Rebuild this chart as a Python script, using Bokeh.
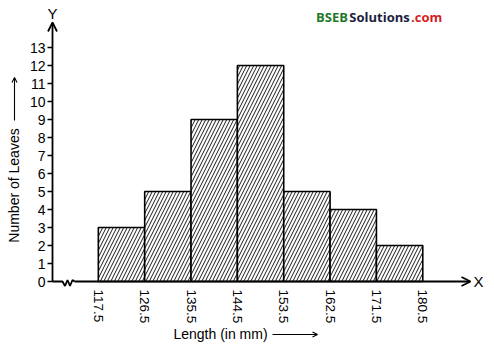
import math
from bokeh.plotting import figure
from bokeh.models import FixedTicker, Label, Arrow, OpenHead
from bokeh.embed import file_html
from bokeh.resources import INLINE

# ---- data ----
edges = [117.5, 126.5, 135.5, 144.5, 153.5, 162.5, 171.5, 180.5]
counts = [3, 5, 9, 12, 5, 4, 2]
y_ticks = list(range(0, 14))
x_tick_labels = ["117.5", "126.5", "135.5", "144.5", "153.5", "162.5", "171.5", "180.5"]

# ---- geometry (pixel scale of reference) ----
W, H = 494, 344
PX_X = 5.15      # px per mm
PX_Y = 18.0      # px per leaf
AX_PX = 52       # px of y-axis from left
ZERO_PX = 281    # px of zero line from top
AXIS_X = 108.6   # y-axis position in mm units

x0 = AXIS_X - AX_PX / PX_X
x1 = x0 + W / PX_X
y0 = -(H - ZERO_PX) / PX_Y
y1 = ZERO_PX / PX_Y

def dx(px):
    return AXIS_X + (px - AX_PX) / PX_X

def dy(py):
    return (ZERO_PX - py) / PX_Y

FONT = "Liberation Sans"

p = figure(width=W, height=H, x_range=(x0, x1), y_range=(y0, y1),
           min_border=0, output_backend="svg", toolbar_location=None)
p.outline_line_color = None
p.grid.visible = False
p.background_fill_color = "white"

# bars
p.quad(left=edges[:-1], right=edges[1:], bottom=[0] * len(counts), top=counts,
       fill_color="white", line_color="black", line_width=1.6,
       hatch_pattern="/", hatch_scale=7, hatch_weight=1.0, hatch_color="#1a1a1a")

# x axis (inside the frame at y = 0)
p.xaxis.fixed_location = 0
p.xaxis.ticker = FixedTicker(ticks=edges)
p.xaxis.major_label_overrides = {e: t for e, t in zip(edges, x_tick_labels)}
p.xaxis.major_label_orientation = "vertical"
p.xaxis.axis_line_color = None
p.xaxis.major_tick_line_color = None
p.xaxis.minor_tick_line_color = None
p.xaxis.major_label_standoff = 2
p.xaxis.major_label_text_font = FONT
p.xaxis.major_label_text_font_size = "13.5px"
p.xaxis.major_label_text_color = "black"

# y axis (inside the frame at x = AXIS_X)
p.yaxis.fixed_location = AXIS_X
p.yaxis.ticker = FixedTicker(ticks=y_ticks)
p.yaxis.axis_line_color = None
p.yaxis.major_tick_out = 5
p.yaxis.major_tick_in = 0
p.yaxis.major_tick_line_width = 1.3
p.yaxis.major_tick_line_color = "black"
p.yaxis.minor_tick_line_color = None
p.yaxis.major_label_standoff = 2
p.yaxis.major_label_text_font = FONT
p.yaxis.major_label_text_font_size = "14px"
p.yaxis.major_label_text_color = "black"

# axis lines with arrows
p.add_layout(Arrow(x_start=AXIS_X, y_start=0, x_end=AXIS_X, y_end=dy(22),
                   line_width=1.8, line_color="black",
                   end=OpenHead(size=9, line_width=1.8, line_color="black")))
zx = [52, 62, 64.5, 67, 69.5, 72, 74]
zy = [281, 281, 285.5, 279.5, 285.5, 279.5, 281]
p.line([dx(v) for v in zx], [dy(v) for v in zy], line_width=1.8, line_color="black")
p.add_layout(Arrow(x_start=dx(74), y_start=0, x_end=dx(470), y_end=0,
                   line_width=1.8, line_color="black",
                   end=OpenHead(size=9, line_width=1.8, line_color="black")))

# axis letters
p.add_layout(Label(x=AXIS_X, y=dy(13), text="Y", text_align="center",
                   text_baseline="middle", text_font=FONT, text_font_size="15px",
                   text_color="black"))
p.add_layout(Label(x=dx(478), y=0, text="X", text_align="center",
                   text_baseline="middle", text_font=FONT, text_font_size="15px",
                   text_color="black"))

# axis titles
p.add_layout(Label(x=dx(13), y=dy(185), text="Number of Leaves", angle=math.pi / 2,
                   text_align="center", text_baseline="middle",
                   text_font=FONT, text_font_size="14px", text_color="black"))
p.add_layout(Arrow(x_start=dx(14), y_start=dy(120), x_end=dx(14), y_end=dy(77),
                   line_width=1.1, line_color="black",
                   end=OpenHead(size=5, line_width=1.1, line_color="black")))
p.add_layout(Label(x=dx(220), y=dy(333), text="Length (in mm)",
                   text_align="center", text_baseline="middle",
                   text_font=FONT, text_font_size="14px", text_color="black"))
p.add_layout(Arrow(x_start=dx(272), y_start=dy(334), x_end=dx(317), y_end=dy(334),
                   line_width=1.1, line_color="black",
                   end=OpenHead(size=5, line_width=1.1, line_color="black")))

# watermark
WM = "Open Sans"
p.add_layout(Label(x=dx(347.5), y=dy(16), text="BSEB", text_align="right",
                   text_baseline="middle", text_font=WM, text_font_size="13px",
                   text_font_style="bold", text_color="#1e7a2a"))
p.add_layout(Label(x=dx(379), y=dy(16), text="Solutions", text_align="center",
                   text_baseline="middle", text_font=WM, text_font_size="13px",
                   text_font_style="bold", text_color="#211d3f"))
p.add_layout(Label(x=dx(410.5), y=dy(16), text=".com", text_align="left",
                   text_baseline="middle", text_font=WM, text_font_size="13px",
                   text_font_style="bold", text_color="#d31f1f"))

open("out.html", "w").write(file_html(p, INLINE))
